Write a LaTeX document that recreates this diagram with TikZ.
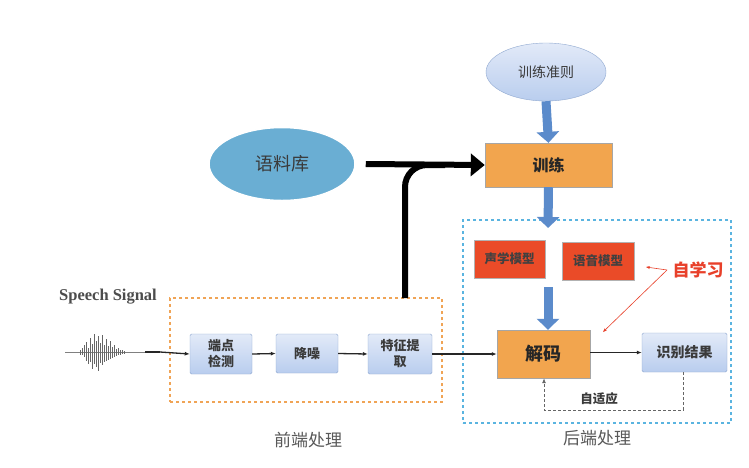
\documentclass[tikz,border=0pt]{standalone}
\usepackage{fontspec}
\setmainfont{Liberation Serif}
\newfontfamily\cjk{Noto Sans CJK SC}
\usetikzlibrary{arrows.meta,shapes.geometric,positioning}
\definecolor{orfill}{HTML}{F2A54E}
\definecolor{redfill}{HTML}{EA4B28}
\definecolor{bluearrow}{HTML}{5B8BCB}
\definecolor{lbtop}{HTML}{E2EAF8}
\definecolor{lbbot}{HTML}{B9CDEE}
\definecolor{lbdraw}{HTML}{8FA8D0}
\definecolor{dashblue}{HTML}{5AB4E0}
\definecolor{dashor}{HTML}{F0A456}
\definecolor{txt}{HTML}{3A3A3A}
\definecolor{corpusfill}{HTML}{6AAED3}
\definecolor{selfred}{HTML}{E8402A}
\tikzset{
  lbox/.style={draw=lbdraw, top color=lbtop, bottom color=lbbot, rounded corners=1.5pt, inner sep=0pt, font=\cjk\bfseries\fontsize{13}{16}\selectfont, text=txt, align=center},
  obox/.style={draw=gray!70, fill=orfill, inner sep=0pt, text=black!85},
  rbox/.style={draw=gray!60, fill=redfill, inner sep=0pt, font=\cjk\bfseries\fontsize{12.5}{14}\selectfont, text=black!75},
  barrow/.style={draw=bluearrow, line width=9pt, -{Triangle[length=11pt,width=22pt]}},
  karrow/.style={draw=black!85, line width=1.3pt, -{Latex[length=5pt,width=4pt]}},
}
\begin{document}
\begin{tikzpicture}[x=1pt,y=-1pt]
\useasboundingbox (0,0) rectangle (749,467);
\fill[white] (0,0) rectangle (749,467);

% top
\node[ellipse, draw=lbdraw, top color=lbtop, bottom color=lbbot, minimum width=120pt, minimum height=58pt, font=\cjk\fontsize{14}{16}\selectfont, text=txt] (crit) at (546,72) {训练准则};
\node[obox, minimum width=127pt, minimum height=44pt, font=\cjk\bfseries\fontsize{16}{18}\selectfont] (train) at (548.5,165) {训练};
\node[ellipse, draw=white, line width=1.5pt, fill=corpusfill, minimum width=146pt, minimum height=73pt, font=\cjk\fontsize{18}{20}\selectfont, text=txt] (corpus) at (282,164) {语料库};

\draw[barrow] (crit.south) -- (train.north);

% dashed boxes
\node[draw=dashblue, dashed, line width=1.3pt, minimum width=268pt, minimum height=203pt, inner sep=0pt] (back) at (597,321.5) {};
\node[draw=dashor, dashed, line width=1.1pt, minimum width=272pt, minimum height=104pt, inner sep=0pt] (front) at (306,350) {};

% back end
\node[rbox, minimum width=71pt, minimum height=38pt] (am) at (509.5,259) {声学模型};
\node[rbox, minimum width=72pt, minimum height=38pt] (lm) at (598,261) {语音模型};
\node[obox, minimum width=93pt, minimum height=48pt, font=\cjk\bfseries\fontsize{18}{20}\selectfont] (dec) at (543.5,354) {解码};
\node[lbox, minimum width=85pt, minimum height=39pt, font=\cjk\bfseries\fontsize{14}{16}\selectfont] (res) at (684.5,352.5) {识别结果};
\coordinate (bin) at (548,228);
\coordinate (bout) at (548,287);
\draw[barrow] (train.south) -- (bin);
\draw[barrow] (bout) -- (dec.north -| bout);
\draw[karrow] (dec.east |- res.west) -- (res.west);
\coordinate (fb1) at (683,410);
\coordinate (fb2) at (544,410);
\draw[black!60, densely dashed, line width=0.8pt, -{Latex[length=5pt,width=4pt]}] (res.south -| fb1) -- (fb1) -- (fb2) -- (dec.south -| fb2);
\node[font=\cjk\bfseries\fontsize{12.5}{14}\selectfont, text=txt] (adapt) at (599,399) {自适应};

% self-learning
\node[font=\cjk\bfseries\fontsize{17}{19}\selectfont, text=selfred] (self) at (698,270) {自学习};
\coordinate (sl) at (667,270);
\coordinate (sa) at (646,267);
\coordinate (sb) at (603,332);
\draw[selfred, line width=0.6pt, -{Stealth[length=4pt,width=3pt]}] (sl) -- (sa);
\draw[selfred, line width=0.6pt, -{Stealth[length=4pt,width=3pt]}] (sl) -- (sb);

% front end
\node[lbox, minimum width=62pt, minimum height=40pt] (ep) at (221,354) {端点\\检测};
\node[lbox, minimum width=62pt, minimum height=39pt] (dn) at (307,353.5) {降噪};
\node[lbox, minimum width=64pt, minimum height=40pt] (fe) at (400,354) {特征提\\取};
\draw[karrow] (ep.east) -- (dn.west);
\draw[karrow] (dn.east) -- (fe.west);
\draw[karrow] (fe.east) -- (dec.west |- fe.east);

% big black arrow
\coordinate (vb) at (405,298);
\draw[black, line width=6pt, -{Triangle[length=14pt,width=22pt]}] (corpus.east) ++(10,0) coordinate (cstart) -- (train.west);
\draw[black, line width=6pt, rounded corners=22pt] (vb) |- (445,165);

% speech signal
\node[font=\bfseries\fontsize{16.5}{18}\selectfont, text=black!70] (speech) at (108,297) {Speech Signal};
\coordinate (w0) at (65,352);
\coordinate (w1) at (160,352);
\draw[black!50, line width=0.8pt] (w0) -- (w1);
\draw[black!85, line width=1.4pt] (145,352) -- (160,352);
\draw[karrow] (w1) -- (ep.west);
\foreach \x/\a/\b in {80/2/3, 82/4/3, 84/7/5, 86/10/9, 88/4/12, 90/14/10, 92/8/17, 94/18/12, 96/11/15, 98/16/19, 100/9/11, 102/17/13, 104/7/10, 106/13/9, 108/6/8, 110/11/7, 112/5/6, 114/7/5, 116/3/4, 118/4/3, 120/2/3, 122/2/2, 124/1/2}
  \draw[black!60, line width=0.8pt] (\x,352-\a) -- (\x,352+\b);

% captions
\node[font=\cjk\fontsize{17}{19}\selectfont, text=black!65] (fcap) at (308,440) {前端处理};
\node[font=\cjk\fontsize{17}{19}\selectfont, text=black!65] (bcap) at (597,438) {后端处理};
\end{tikzpicture}
\end{document}
